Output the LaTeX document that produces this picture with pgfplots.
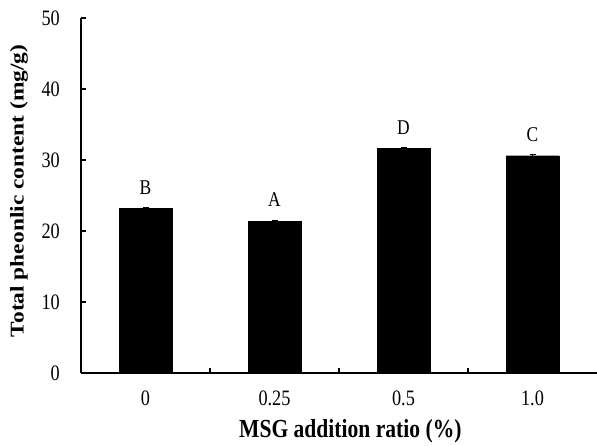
\documentclass[border=0pt]{standalone}
\usepackage{fontspec}
\setmainfont{Liberation Serif}[FakeStretch=0.83]
\newfontfamily\ylabfont{Liberation Serif}[FakeStretch=1.2]
\usepackage{pgfplots}
\pgfplotsset{compat=1.18}
\begin{document}
\begin{tikzpicture}
\useasboundingbox (0,0) rectangle (597pt,446pt);
\begin{axis}[
  at={(81pt,73pt)}, anchor=south west,
  scale only axis, width=516pt, height=355pt,
  xmin=-0.5, xmax=3.5, ymin=0, ymax=50,
  axis x line=bottom, axis y line=left,
  axis line style={line width=1.4pt, -},
  xtick={0,1,2,3}, xticklabels={0,0.25,0.5,1.0},
  minor xtick={0.5,1.5,2.5},
  ytick={0,10,20,30,40,50},
  tick align=inside,
  major x tick style={draw=none},
  major tick length=5pt, minor tick length=5pt,
  tick style={line width=1.4pt, black},
  /pgf/number format/assume math mode=true,
  ticklabel style={font=\fontsize{22}{24}\selectfont},
  yticklabel style={anchor=east, inner sep=0pt, xshift=-21pt},
  xticklabel style={anchor=base, inner sep=0pt, yshift=-33pt},
  xlabel={MSG addition ratio (\%)},
  ylabel={Total pheonlic content (mg/g)},
  xlabel style={font=\fontsize{26}{28}\selectfont\bfseries, at={(axis description cs:0.522,-0.163)}, anchor=center},
  ylabel style={font=\ylabfont\fontsize{19.5}{21}\selectfont\bfseries, at={(axis description cs:-0.120,0.513)}, anchor=center},
  nodes near coords,
  point meta=explicit symbolic,
  every node near coord/.append style={font=\fontsize{21}{23}\selectfont, anchor=south, inner sep=0pt, yshift=14pt},
]
\addplot[ybar, bar width=0.41, fill=black, draw=black,
  error bars/.cd, y dir=both, y explicit,
  error bar style={line width=1pt, black},
  error mark options={rotate=90, mark size=3pt, line width=1pt}]
  coordinates {
  (0,23.2) +- (0,0.15) [B]
  (1,21.4) +- (0,0.12) [A]
  (2,31.6) +- (0,0.12) [D]
  (3,30.6) +- (0,0.12) [C]
  };
\end{axis}
\end{tikzpicture}
\end{document}
